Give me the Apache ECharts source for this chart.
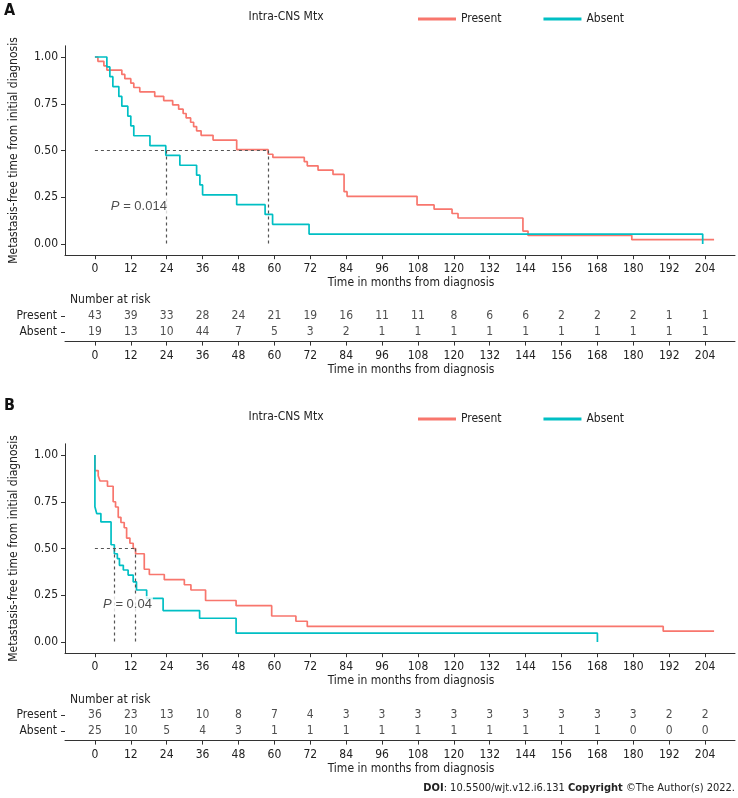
<!DOCTYPE html>
<html>
<head>
<meta charset="utf-8">
<script src="https://cdn.jsdelivr.net/npm/echarts@6/dist/echarts.min.js"></script>
<style>html,body{margin:0;padding:0;background:#fff}#c{width:738px;height:798px}</style>
</head>
<body>
<div id="c"></div>
<script>
// ---------- data ----------
const xTicks = [0,12,24,36,48,60,72,84,96,108,120,132,144,156,168,180,192,204];
const yTicks = [0,0.25,0.5,0.75,1];
const groups = ['Present','Absent'];

// Panel A (Kaplan-Meier steps: time, survival after time)
const presentA_t = [0,1,3,4,9,10,12,13,15,20,23,26,28,29.5,30.5,32,33,34,35.5,39.5,47.4,57.9,59.5,70,71,74.6,79.6,83.3,84.3,107.7,113.4,119.4,121.4,143.1,144.8,179.5,207];
const presentA_s = [1,0.977,0.953,0.930,0.907,0.884,0.860,0.837,0.814,0.790,0.767,0.744,0.721,0.698,0.674,0.651,0.628,0.605,0.581,0.556,0.505,0.48,0.463,0.44,0.418,0.395,0.372,0.28,0.255,0.209,0.186,0.163,0.139,0.069,0.046,0.023,0.023];
const absentA_t = [0,4,5,6,8,9,11,12,13,18.4,23.7,28.4,34,35.1,36,47.4,56.9,59.4,71.6,203.2];
const absentA_s = [1,0.947,0.895,0.842,0.789,0.737,0.684,0.632,0.579,0.526,0.474,0.421,0.368,0.316,0.263,0.21,0.158,0.105,0.053,0];
const mediansA = [23.7, 57.9];
const pLabelA = 'P = 0.014';
const pPosA = [14.7, 0.2];
const riskA_present = [43,39,33,28,24,21,19,16,11,11,8,6,6,2,2,2,1,1];
const riskA_absent  = [19,13,10,44,7,5,3,2,1,1,1,1,1,1,1,1,1,1];

// Panel B
const presentB_t = [0,0,1.1,1.7,4.2,6.1,6.9,7.8,8.7,9.8,10.6,11.7,12.8,13.6,16.5,18.2,23.2,29.9,32.1,37,47.2,59.1,67.2,71,190,207];
const presentB_s = [1,0.917,0.889,0.861,0.833,0.75,0.722,0.667,0.639,0.611,0.556,0.528,0.5,0.472,0.389,0.361,0.333,0.306,0.278,0.222,0.194,0.139,0.111,0.083,0.058,0.058];
const absentB_t = [0,0,0.6,2,5.4,6.5,7.5,8.2,9.5,11.1,12.8,13.9,17.3,22.8,35,47.2,168];
const absentB_s = [1,0.723,0.687,0.642,0.52,0.472,0.446,0.41,0.385,0.358,0.322,0.278,0.233,0.168,0.127,0.047,0];
const mediansB = [6.5, 13.6];
const pLabelB = 'P = 0.04';
const pPosB = [10.9, 0.2];
const riskB_present = [36,23,13,10,8,7,4,3,3,3,3,3,3,3,3,3,2,2];
const riskB_absent  = [25,10,5,4,3,1,1,1,1,1,1,1,1,1,1,0,0,0];

// ---------- style ----------
const FONT = '"DejaVu Sans Condensed","DejaVu Sans",sans-serif';
const C_PRESENT = '#F8766D', C_ABSENT = '#00BFC4';
const AX = '#333', TXT = '#222';
const XMIN = -10, XMAX = 214;
const xName = 'Time in months from diagnosis';
const yName = 'Metastasis-free time from initial diagnosis';

const zip = (t, s) => t.map((v, i) => [v, s[i]]);

function mainX(gi) {
  return { type:'value', gridIndex:gi, min:XMIN, max:XMAX,
    axisLine:{show:true, onZero:false, lineStyle:{color:AX, width:1}},
    axisTick:{show:true, customValues:xTicks, length:4, lineStyle:{color:AX}},
    axisLabel:{customValues:xTicks, color:TXT, fontSize:12, fontFamily:FONT, margin:8},
    splitLine:{show:false},
    name:xName, nameLocation:'middle', nameGap:22,
    nameTextStyle:{color:TXT, fontSize:12, fontFamily:FONT, padding:[0,0,0,22]} };
}
function mainY(gi) {
  return { type:'value', gridIndex:gi, min:-0.06, max:1.06,
    axisLine:{show:true, onZero:false, lineStyle:{color:AX, width:1}},
    axisTick:{show:true, customValues:yTicks, length:4, lineStyle:{color:AX}},
    axisLabel:{customValues:yTicks, color:TXT, fontSize:12, fontFamily:FONT, margin:7, formatter:v=>v.toFixed(2)},
    splitLine:{show:false},
    name:yName, nameLocation:'middle', nameGap:45, nameRotate:90,
    nameTextStyle:{color:TXT, fontSize:12, fontFamily:FONT} };
}
function tableY(gi) {
  return { type:'value', gridIndex:gi, min:0.4, max:2.6, inverse:true,
    axisLine:{show:false, onZero:false},
    axisTick:{show:true, customValues:[1,2], length:4, lineStyle:{color:AX}},
    axisLabel:{customValues:[1,2], color:TXT, fontSize:12, fontFamily:FONT, margin:8, formatter:v=>groups[Math.round(v)-1]},
    splitLine:{show:false} };
}
function kmSeries(name, data, color, xi) {
  return { type:'line', name, xAxisIndex:xi, yAxisIndex:xi, data, step:'end',
    showSymbol:false, symbol:'none', lineStyle:{color, width:1.7}, itemStyle:{color}, z:3 };
}
function medianSeries(meds, xi) {
  const mx = Math.max(...meds);
  const data = [[{coord:[0,0.5]},{coord:[mx,0.5]}]];
  meds.forEach(m => data.push([{coord:[m,0.5]},{coord:[m,0]}]));
  return { type:'line', name:'med'+xi, xAxisIndex:xi, yAxisIndex:xi, data:[], z:2,
    markLine:{silent:true, symbol:['none','none'], label:{show:false},
      lineStyle:{color:'#555', type:[3,3], width:1.2}, emphasis:{disabled:true}, data} };
}
function pSeries(pos, txt, xi) {
  return { type:'scatter', name:'p'+xi, xAxisIndex:xi, yAxisIndex:xi, data:[pos], symbolSize:1,
    itemStyle:{color:'rgba(0,0,0,0)'}, z:5,
    label:{show:true, position:'inside', formatter:'{i|P} '+txt.slice(2),
      backgroundColor:'#fff', padding:[2,1],
      color:'#222', fontSize:13, fontFamily:'"Liberation Sans",Arial,sans-serif',
      rich:{i:{fontStyle:'italic', fontSize:13, color:'#222', fontFamily:'"Liberation Sans",Arial,sans-serif'}}} };
}
function riskSeries(vals, row, xi) {
  return { type:'scatter', name:'risk'+xi+'_'+row, xAxisIndex:xi, yAxisIndex:xi,
    data: xTicks.map((t,i)=>[t,row,vals[i]]), symbolSize:1, itemStyle:{color:'rgba(0,0,0,0)'},
    label:{show:true, position:'inside', formatter:p=>String(p.value[2]), color:TXT, fontSize:12, fontFamily:FONT} };
}

const GL = 65, GW = 670;
const option = {
  animation:false,
  backgroundColor:'#fff',
  textStyle:{fontFamily:FONT},
  grid:[
    {left:GL, width:GW, top:45.8, height:209.4},
    {left:GL, width:GW, top:306.4, height:35.2},
    {left:GL, width:GW, top:443.8, height:209.4},
    {left:GL, width:GW, top:705.4, height:35.2}
  ],
  xAxis:[mainX(0), mainX(1), mainX(2), mainX(3)],
  yAxis:[mainY(0), tableY(1), mainY(2), tableY(3)],
  legend:[
    {data:groups, left:413, top:8, itemWidth:38, itemHeight:3, icon:'rect', itemGap:42,
      textStyle:{color:TXT, fontSize:12, fontFamily:FONT}, selectedMode:false},
    {data:groups, left:413, top:408, itemWidth:38, itemHeight:3, icon:'rect', itemGap:42,
      textStyle:{color:TXT, fontSize:12, fontFamily:FONT}, selectedMode:false}
  ],
  graphic:[
    {type:'text', left:4, top:3, style:{text:'A', font:'bold 16px '+FONT, fill:'#111'}},
    {type:'text', left:4, top:398, style:{text:'B', font:'bold 16px '+FONT, fill:'#111'}},
    {type:'text', x:286, y:17, style:{text:'Intra-CNS Mtx', font:'12px '+FONT, fill:TXT, align:'center', verticalAlign:'middle'}},
    {type:'text', x:286, y:417, style:{text:'Intra-CNS Mtx', font:'12px '+FONT, fill:TXT, align:'center', verticalAlign:'middle'}},
    {type:'text', x:70, y:300, style:{text:'Number at risk', font:'12px '+FONT, fill:TXT, verticalAlign:'middle'}},
    {type:'text', x:70, y:700, style:{text:'Number at risk', font:'12px '+FONT, fill:TXT, verticalAlign:'middle'}},
    {type:'text', x:735, y:788, style:{
      text:'{b|DOI}: 10.5500/wjt.v12.i6.131 {b|Copyright} ©The Author(s) 2022.',
      font:'11px '+FONT, fill:TXT, align:'right', verticalAlign:'middle',
      rich:{b:{fontWeight:'bold', fontSize:11, fontFamily:FONT, fill:TXT}}}}
  ],
  series:[
    kmSeries('Present', zip(presentA_t, presentA_s), C_PRESENT, 0),
    kmSeries('Absent', zip(absentA_t, absentA_s), C_ABSENT, 0),
    medianSeries(mediansA, 0),
    pSeries(pPosA, pLabelA, 0),
    riskSeries(riskA_present, 1, 1),
    riskSeries(riskA_absent, 2, 1),
    kmSeries('Present', zip(presentB_t, presentB_s), C_PRESENT, 2),
    kmSeries('Absent', zip(absentB_t, absentB_s), C_ABSENT, 2),
    medianSeries(mediansB, 2),
    pSeries(pPosB, pLabelB, 2),
    riskSeries(riskB_present, 1, 3),
    riskSeries(riskB_absent, 2, 3)
  ]
};
const chart = echarts.init(document.getElementById('c'), null, {renderer:'canvas'});
chart.setOption(option);
</script>
</body>
</html>
